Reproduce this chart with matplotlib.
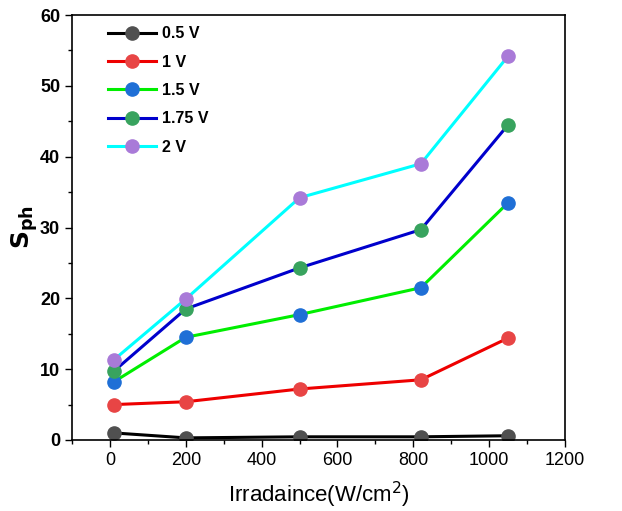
import matplotlib
matplotlib.use("Agg")
import matplotlib.pyplot as plt
from matplotlib.ticker import MultipleLocator

plt.rcParams['font.family'] = ['Liberation Sans', 'DejaVu Sans']

irradiance = [10, 200, 500, 820, 1050]
labels = ['0.5 V', '1 V', '1.5 V', '1.75 V', '2 V']
s_05 = [1.0, 0.3, 0.45, 0.45, 0.6]
s_10 = [5.0, 5.4, 7.2, 8.5, 14.4]
s_15 = [8.2, 14.5, 17.7, 21.5, 33.5]
s_175 = [9.7, 18.5, 24.3, 29.7, 44.5]
s_20 = [11.3, 19.9, 34.2, 39.0, 54.2]
series = [s_05, s_10, s_15, s_175, s_20]
line_colors = ['#000000', '#ee0000', '#00ee00', '#0000cc', '#00ffff']
marker_colors = ['#505050', '#e84545', '#1f6fd6', '#38a35e', '#a97ad8']

fig = plt.figure(figsize=(6.22, 5.11), dpi=100)
ax = fig.add_axes([72/622, 1-440/511, (565-72)/622, (440-15)/511])

for ys, lab, lc, mc in zip(series, labels, line_colors, marker_colors):
    ax.plot(irradiance, ys, color=lc, lw=2.2, marker='o', markersize=9.5,
            markerfacecolor=mc, markeredgecolor=mc, label=lab)

ax.set_xlim(-100, 1200)
ax.set_ylim(0, 60)
ax.xaxis.set_major_locator(MultipleLocator(200))
ax.xaxis.set_minor_locator(MultipleLocator(100))
ax.yaxis.set_major_locator(MultipleLocator(10))
ax.yaxis.set_minor_locator(MultipleLocator(5))
ax.tick_params(which='both', direction='out', top=False, right=False, width=1)
ax.tick_params(which='major', length=5, labelsize=13)
ax.tick_params(which='minor', length=3)
for lab in ax.get_yticklabels():
    lab.set_fontweight('bold')
for sp in ax.spines.values():
    sp.set_linewidth(1.2)

ax.set_xlabel('Irradaince(W/cm$^2$)', fontsize=16, labelpad=8)
ax.set_ylabel(r'$\mathbf{S_{ph}}$', fontsize=18, labelpad=0)

leg = ax.legend(loc='upper left', bbox_to_anchor=(0.05, 1.0), frameon=False,
                handlelength=3.0, handletextpad=0.4, markerscale=1.0,
                borderaxespad=0.3, labelspacing=0.84,
                prop={'weight': 'bold', 'size': 11.5})

fig.savefig('out.png', dpi=100)
